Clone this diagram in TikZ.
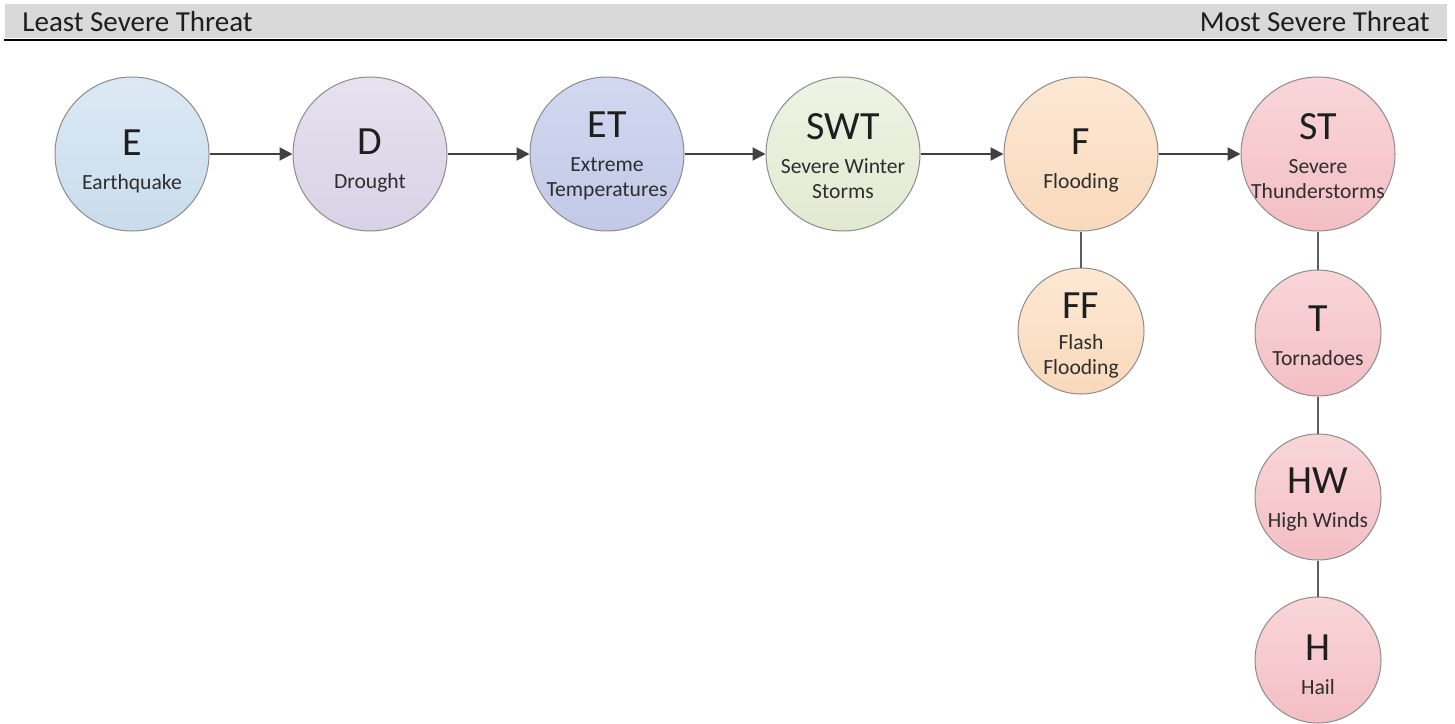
\documentclass[tikz,border=0pt]{standalone}
\usepackage{fontspec}
\setmainfont{Carlito}
\usetikzlibrary{arrows.meta}
\definecolor{hdrgray}{HTML}{D9D9D9}
\definecolor{edge}{HTML}{8C8C8C}
\definecolor{conn}{HTML}{404040}
\definecolor{txt}{HTML}{1E1E1E}
\definecolor{subtxt}{HTML}{2E2E2E}
\definecolor{eTop}{HTML}{DCE9F4}\definecolor{eBot}{HTML}{C9DCEC}
\definecolor{dTop}{HTML}{E6E2EF}\definecolor{dBot}{HTML}{D8D2E6}
\definecolor{etTop}{HTML}{D2D8EF}\definecolor{etBot}{HTML}{C2C9E7}
\definecolor{swTop}{HTML}{EFF3E4}\definecolor{swBot}{HTML}{E2E9D1}
\definecolor{fTop}{HTML}{FDE8D3}\definecolor{fBot}{HTML}{F9D9BB}
\definecolor{stTop}{HTML}{F9D6D9}\definecolor{stBot}{HTML}{F3BEC4}
\newcommand{\bigf}{\fontsize{20}{22}\selectfont\color{txt}}
\newcommand{\smf}{\fontsize{10.8}{12.5}\selectfont}
\begin{document}
\begin{tikzpicture}[x=0.5pt,y=-0.5pt,
  bigc/.style={circle,draw=edge,line width=0.5pt,minimum size=77pt,inner sep=0pt},
  smallc/.style={circle,draw=edge,line width=0.5pt,minimum size=63pt,inner sep=0pt},
  lbl/.style={align=center,inner sep=0pt,text=subtxt,font=\smf},
  hdr/.style={font=\fontsize{14.5}{16}\selectfont,text=txt,inner sep=0pt},
  arr/.style={draw=conn,line width=1pt,-{Triangle[length=6.5pt,width=6.5pt]}},
  link/.style={draw=conn!85,line width=1pt}]
\useasboundingbox (0,0) rectangle (1455,723);
% header
\fill[hdrgray] (5,4) rectangle (1447,38);
\draw[black,line width=1pt] (4,39.5) -- (1447,39.5);
\node[hdr,anchor=base west] (least) at (22,31) {Least Severe Threat};
\node[hdr,anchor=base east] (most) at (1430,31) {Most Severe Threat};
% circles
\node[bigc,top color=eTop,bottom color=eBot] (e) at (132,154) {};
\node[bigc,top color=dTop,bottom color=dBot] (d) at (370,154) {};
\node[bigc,top color=etTop,bottom color=etBot] (et) at (607,154) {};
\node[bigc,top color=swTop,bottom color=swBot] (swt) at (843,154) {};
\node[bigc,top color=fTop,bottom color=fBot] (f) at (1081,154) {};
\node[bigc,top color=stTop,bottom color=stBot] (st) at (1318,154) {};
\node[smallc,top color=fTop,bottom color=fBot] (ff) at (1081,331) {};
\node[smallc,top color=stTop,bottom color=stBot] (t) at (1318,333) {};
\node[smallc,top color=stTop,bottom color=stBot] (hw) at (1318,497) {};
\node[smallc,top color=stTop,bottom color=stBot] (h) at (1318,660) {};
% labels
\node[lbl] (el) at ([yshift=-3.5pt]e.center) {{\bigf E}\\[4.5pt]Earthquake};
\node[lbl] (dl) at ([yshift=-3.5pt]d.center) {{\bigf D}\\[4.5pt]Drought};
\node[lbl] (etl) at ([yshift=-1.2pt]et.center) {{\bigf ET}\\[4.5pt]Extreme\\Temperatures};
\node[lbl] (swtl) at ([yshift=-1.2pt]swt.center) {{\bigf SWT}\\[4.5pt]Severe Winter\\Storms};
\node[lbl] (fl) at ([yshift=-3.5pt]f.center) {{\bigf F}\\[4.5pt]Flooding};
\node[lbl] (stl) at ([yshift=-1.2pt]st.center) {{\bigf ST}\\[4.5pt]Severe\\Thunderstorms};
\node[lbl] (ffl) at ([yshift=-2.5pt]ff.center) {{\bigf FF}\\[3pt]Flash\\Flooding};
\node[lbl] (tl) at ([yshift=-1.5pt]t.center) {{\bigf T}\\[4.5pt]Tornadoes};
\node[lbl] (hwl) at ([yshift=-1.5pt]hw.center) {{\bigf HW}\\[4.5pt]High Winds};
\node[lbl] (hl) at ([yshift=-2.5pt]h.center) {{\bigf H}\\[4.5pt]Hail};
% connectors
\draw[arr] (e) -- (d);
\draw[arr] (d) -- (et);
\draw[arr] (et) -- (swt);
\draw[arr] (swt) -- (f);
\draw[arr] (f) -- (st);
\draw[link] (f) -- (ff);
\draw[link] (st) -- (t);
\draw[link] (t) -- (hw);
\draw[link] (hw) -- (h);
\end{tikzpicture}
\end{document}
